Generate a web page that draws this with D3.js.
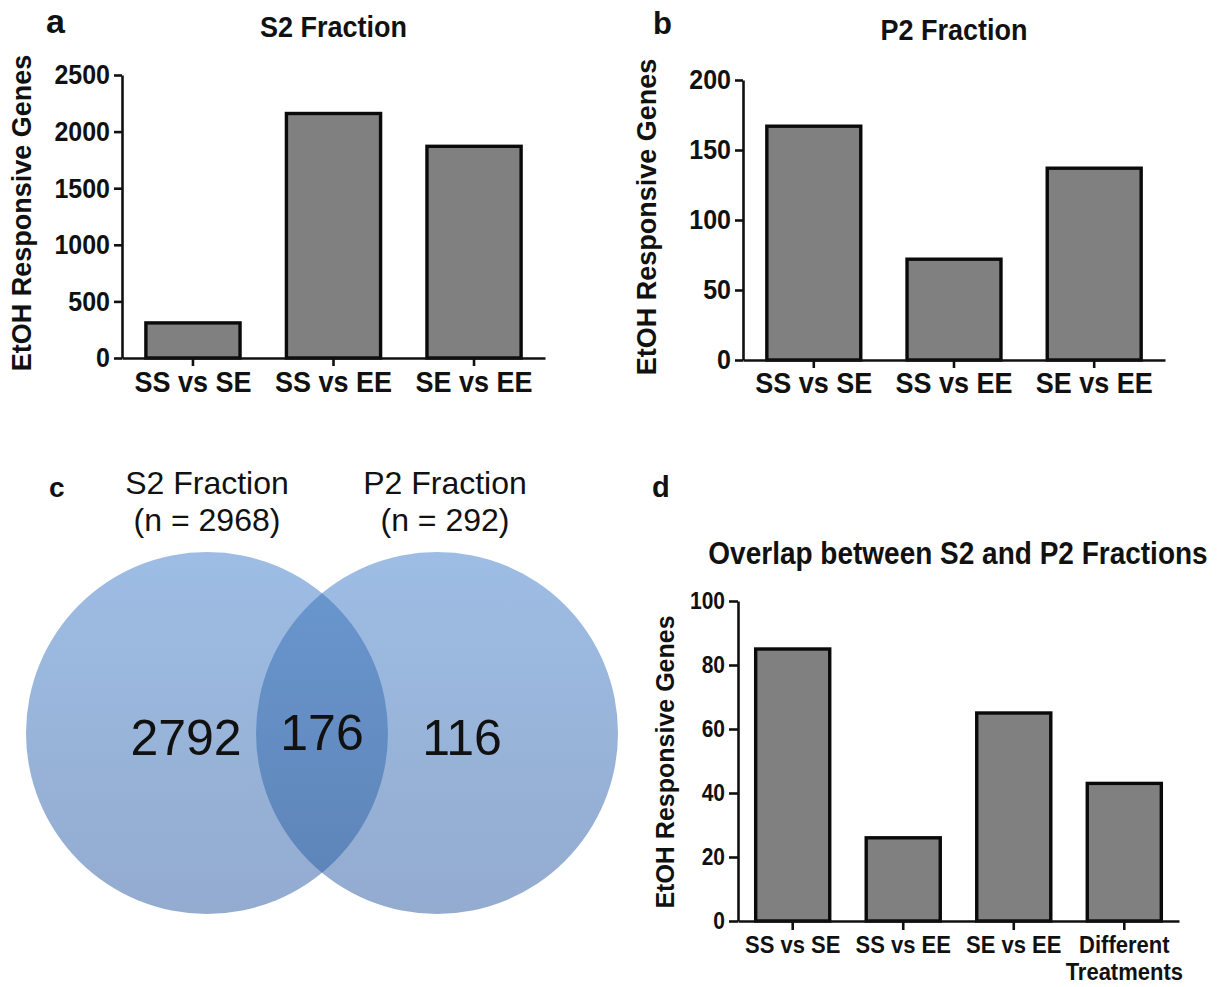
<!DOCTYPE html>
<html>
<head>
<meta charset="utf-8">
<script src="https://cdn.jsdelivr.net/npm/d3@7"></script>
<style>
  html, body { margin: 0; padding: 0; background: #ffffff; }
  svg { display: block; font-family: "Liberation Sans", Arial, Helvetica, sans-serif; }
</style>
</head>
<body>
<svg id="fig" width="1225" height="987"></svg>
<script>
// ---- data ----
const comparisons = ["SS vs SE", "SS vs EE", "SE vs EE"];
const s2Counts = [310, 2160, 1870];
const s2Ticks = [0, 500, 1000, 1500, 2000, 2500];
const p2Counts = [167, 72, 137];
const p2Ticks = [0, 50, 100, 150, 200];
const overlapCategories = ["SS vs SE", "SS vs EE", "SE vs EE", "Different\nTreatments"];
const overlapCounts = [85, 26, 65, 43];
const overlapTicks = [0, 20, 40, 60, 80, 100];
const vennSetNames = ["S2 Fraction", "P2 Fraction"];
const vennSetTotals = [2968, 292];
const vennRegionCounts = [2792, 176, 116]; // S2 only, both, P2 only

const svg = d3.select("#fig");
const yTitle = "EtOH Responsive Genes";
const TALL = 1.1; // glyphs in the bar panels are drawn a little taller than wide

function barPanel(o) {
  const g = svg.append("g");
  const x = d3.scaleBand().domain(o.categories).range([o.left, o.right])
    .paddingInner(o.padIn).paddingOuter(o.padOut);
  const y = d3.scaleLinear().domain([0, d3.max(o.ticks)]).range([o.zero, o.top]);

  g.selectAll("rect.bar").data(o.values).join("rect")
    .attr("class", "bar")
    .attr("x", (d, i) => x(o.categories[i]))
    .attr("width", x.bandwidth())
    .attr("y", d => y(d))
    .attr("height", d => y(0) - y(d))
    .attr("fill", "#808080")
    .attr("stroke", "#0a0a0a")
    .attr("stroke-width", o.barStroke);

  const yAxis = g.append("g").attr("transform", `translate(${o.left},0)`)
    .call(d3.axisLeft(y).tickValues(o.ticks).tickSize(o.tick).tickSizeOuter(0).tickPadding(4).tickFormat(d3.format("d")));
  const xAxis = g.append("g").attr("transform", `translate(0,${o.zero})`)
    .call(d3.axisBottom(x).tickSize(o.tick).tickSizeOuter(0));

  [yAxis, xAxis].forEach(a => {
    a.select(".domain").attr("stroke", "#111").attr("stroke-width", o.axisStroke);
    a.selectAll(".tick line").attr("stroke", "#111").attr("stroke-width", o.axisStroke);
  });
  yAxis.selectAll("text").attr("fill", "#111").attr("font-size", o.yTickSize)
    .attr("font-weight", "bold").attr("font-family", "Liberation Sans, Arial, sans-serif")
    .attr("transform", `scale(1,${TALL})`);

  xAxis.selectAll("text").each(function (d) {
    const t = d3.select(this);
    const lines = d.split("\n");
    t.text(null).attr("dy", null).attr("y", null)
      .attr("transform", `scale(1,${TALL})`)
      .attr("fill", "#111").attr("font-size", o.xTickSize).attr("font-weight", "bold")
      .attr("font-family", "Liberation Sans, Arial, sans-serif");
    lines.forEach((ln, k) => {
      t.append("tspan").attr("x", 0).attr("y", (o.xLabelBase + k * o.lineGap) / TALL).text(ln);
    });
  });

  g.append("text")
    .attr("transform", `translate(${o.yTitleX},${o.yTitleY}) rotate(-90)`)
    .attr("text-anchor", "middle").attr("dominant-baseline", "central")
    .attr("font-size", o.yTitleSize).attr("font-weight", "bold").attr("fill", "#111")
    .text(yTitle);

  g.append("text")
    .attr("transform", `translate(${o.titleX ?? (o.left + o.right) / 2},${o.titleY}) scale(1,${TALL})`)
    .attr("text-anchor", "middle").attr("font-size", o.titleSize)
    .attr("font-weight", "bold").attr("fill", "#111").text(o.title);
}

// panel a
barPanel({
  categories: comparisons, values: s2Counts, ticks: s2Ticks,
  left: 122, right: 545, top: 75, zero: 358, padIn: 0.33, padOut: 0.17,
  tick: 8, axisStroke: 2.6, barStroke: 3.4,
  yTickSize: 25, xTickSize: 27, xLabelBase: 34, lineGap: 27,
  yTitleX: 22, yTitleY: 213, yTitleSize: 27,
  title: "S2 Fraction", titleY: 37, titleSize: 27
});

// panel b
barPanel({
  categories: comparisons, values: p2Counts, ticks: p2Ticks,
  left: 743, right: 1165, top: 80, zero: 360, padIn: 0.33, padOut: 0.17,
  tick: 8, axisStroke: 2.6, barStroke: 3.4,
  yTickSize: 25, xTickSize: 27, xLabelBase: 33, lineGap: 27,
  yTitleX: 647, yTitleY: 217, yTitleSize: 27,
  title: "P2 Fraction", titleY: 40, titleSize: 27
});

// panel d
barPanel({
  categories: overlapCategories, values: overlapCounts, ticks: overlapTicks,
  left: 738, right: 1179, top: 601, zero: 921, padIn: 0.33, padOut: 0.16,
  tick: 9, axisStroke: 2.6, barStroke: 3.4,
  yTickSize: 21, xTickSize: 22, xLabelBase: 32, lineGap: 27,
  yTitleX: 665, yTitleY: 762, yTitleSize: 25,
  title: "Overlap between S2 and P2 Fractions", titleX: 958, titleY: 564, titleSize: 28
});

// panel letters
[["a", 46, 33, 34], ["b", 653, 34, 31], ["c", 49, 497, 28], ["d", 652, 497, 29]]
  .forEach(([t, x, y, s]) => svg.append("text").attr("x", x).attr("y", y)
    .attr("font-size", s).attr("font-weight", "bold").attr("fill", "#111").text(t));

// ---- panel c: Venn diagram of the two fractions ----
const venn = svg.append("g");
const defs = svg.append("defs");
const r = 181, cy = 733;
const cx = d3.scalePoint().domain(vennSetNames).range([207, 437]);

const lightGrad = defs.append("linearGradient").attr("id", "vennLight")
  .attr("x1", 0).attr("y1", 0).attr("x2", 0).attr("y2", 1);
lightGrad.append("stop").attr("offset", "0%").attr("stop-color", "#9ebde4");
lightGrad.append("stop").attr("offset", "100%").attr("stop-color", "#93abcf");
const darkGrad = defs.append("linearGradient").attr("id", "vennDark")
  .attr("x1", 0).attr("y1", 0).attr("x2", 0).attr("y2", 1);
darkGrad.append("stop").attr("offset", "0%").attr("stop-color", "#6a98d0");
darkGrad.append("stop").attr("offset", "100%").attr("stop-color", "#5d83b6");

defs.append("clipPath").attr("id", "clipLeft")
  .append("circle").attr("cx", cx(vennSetNames[0])).attr("cy", cy).attr("r", r);

venn.selectAll("circle.set").data(vennSetNames).join("circle")
  .attr("class", "set")
  .attr("cx", d => cx(d)).attr("cy", cy).attr("r", r)
  .attr("fill", "url(#vennLight)");

venn.append("circle")
  .attr("cx", cx(vennSetNames[1])).attr("cy", cy).attr("r", r)
  .attr("clip-path", "url(#clipLeft)")
  .attr("fill", "url(#vennDark)");

// set headers
vennSetNames.forEach((name, i) => {
  const hx = i === 0 ? 207 : 445;
  venn.append("text").attr("x", hx).attr("y", 494).attr("text-anchor", "middle")
    .attr("font-size", 32).attr("fill", "#111").text(name);
  venn.append("text").attr("x", hx).attr("y", 531).attr("text-anchor", "middle")
    .attr("font-size", 32).attr("fill", "#111").text(`(n = ${vennSetTotals[i]})`);
});

// region counts
const regionX = [186, 322, 462];
const regionY = [755, 750, 755];
venn.selectAll("text.count").data(vennRegionCounts).join("text")
  .attr("class", "count")
  .attr("x", (d, i) => regionX[i]).attr("y", (d, i) => regionY[i])
  .attr("text-anchor", "middle").attr("font-size", 50).attr("fill", "#111")
  .text(d => d);
</script>
</body>
</html>
